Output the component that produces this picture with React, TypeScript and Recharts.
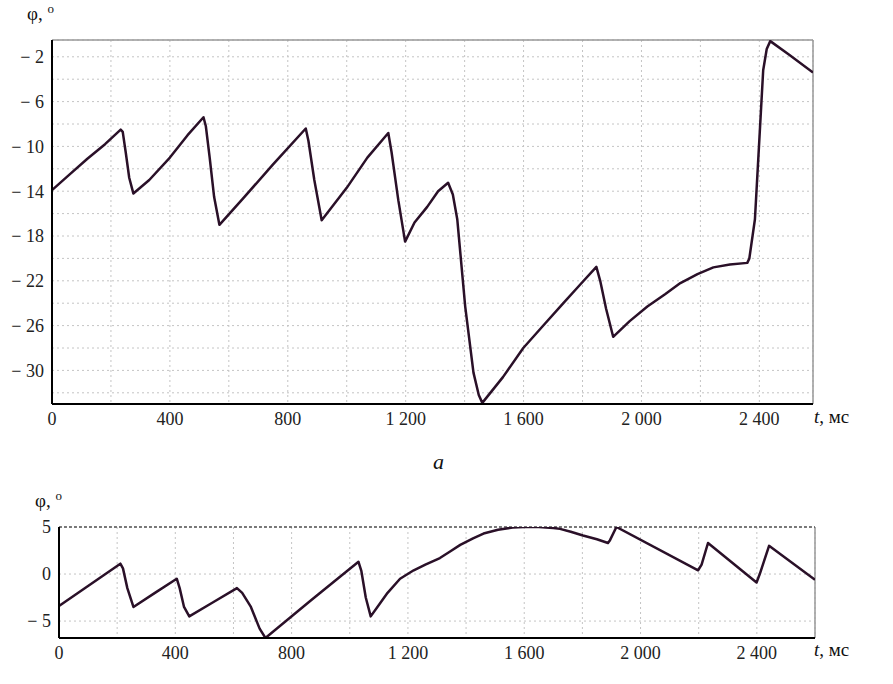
import { LineChart, Line, XAxis, YAxis, CartesianGrid, ReferenceLine } from "recharts";

// chart a: time (ms) and angle (deg)
const T_A = [
  0, 60, 120, 180, 233, 240, 250, 262, 276, 330, 400, 460, 514, 522, 535, 550, 568, 650, 750, 861,
  870, 890, 915, 1000, 1070, 1141, 1152, 1175, 1198, 1230, 1273, 1310, 1344, 1360, 1375, 1402, 1430,
  1448, 1460, 1530, 1599, 1670, 1735, 1790, 1847, 1860, 1880, 1904, 1960, 2020, 2080, 2132, 2190,
  2244, 2300, 2359, 2366, 2385, 2413, 2425, 2437, 2500, 2582,
];
const PHI_A = [
  -13.9, -12.5, -11.1, -9.8, -8.5, -8.7, -10.5, -12.8, -14.2, -13.0, -11.0, -9.0, -7.4, -8.2, -11.0,
  -14.5, -17.0, -14.6, -11.6, -8.4, -9.5, -13.0, -16.6, -13.7, -11.0, -8.8, -10.5, -14.8, -18.5,
  -16.8, -15.4, -14.0, -13.25, -14.3, -16.5, -24.3, -30.2, -32.2, -32.9, -30.6, -28.0, -25.9, -24.0,
  -22.4, -20.75, -22.0, -24.5, -27.0, -25.6, -24.3, -23.2, -22.2, -21.4, -20.8, -20.55, -20.4, -20.0,
  -16.5, -3.2, -1.3, -0.6, -1.8, -3.4,
];

// chart b
const T_B = [
  0, 211, 220, 235, 256, 330, 405, 415, 430, 448, 530, 612, 630, 660, 690, 710, 870, 1030, 1040, 1055,
  1072, 1100, 1130, 1173, 1220, 1260, 1310, 1345, 1380, 1424, 1460, 1510, 1560, 1600, 1650, 1700,
  1723, 1760, 1802, 1850, 1888, 1895, 1917, 2198, 2210, 2232, 2399, 2410, 2442, 2600,
];
const PHI_B = [
  -3.4, 1.1, 0.6, -1.5, -3.5, -2.0, -0.5, -1.5, -3.5, -4.5, -3.0, -1.5, -2.0, -3.5, -5.8, -6.8, -2.7,
  1.3, 0.3, -2.5, -4.5, -3.3, -2.0, -0.5, 0.4, 1.0, 1.7, 2.4, 3.1, 3.8, 4.3, 4.7, 4.95, 5.0, 5.0, 4.9,
  4.8, 4.5, 4.1, 3.7, 3.3, 3.6, 5.0, 0.4, 1.0, 3.3, -0.9, 0.0, 3.0, -0.6,
];

const X_TICKS = [0, 200, 400, 600, 800, 1000, 1200, 1400, 1600, 1800, 2000, 2200, 2400];
const Y_TICKS_A = [-32, -30, -28, -26, -24, -22, -20, -18, -16, -14, -12, -10, -8, -6, -4, -2];
const Y_TICKS_B = [-5, 0, 5];

const dataA = T_A.map((t, i) => ({ t, phi: PHI_A[i] }));
const dataB = T_B.map((t, i) => ({ t, phi: PHI_B[i] }));

const LINE = "#2a1028";
const FONT = "Times New Roman, Liberation Serif, serif";
const tickStyle = { fill: "#222", fontSize: 18, fontFamily: FONT };

const fmtX = (v: number) => {
  if (v % 400 !== 0) return "";
  if (v < 1000) return String(v);
  return `${Math.floor(v / 1000)} ${String(v % 1000).padStart(3, "0")}`;
};
const fmtY = (v: number) => (v < 0 ? `\u2212 ${Math.abs(v)}` : String(v));

const Label = ({ x, y, children, italic }: { x: number; y: number; children: any; italic?: boolean }) => (
  <div
    style={{
      position: "absolute",
      left: x,
      top: y,
      fontFamily: FONT,
      fontSize: 19,
      color: "#111",
      fontStyle: italic ? "italic" : "normal",
      whiteSpace: "nowrap",
    }}
  >
    {children}
  </div>
);

const Phi = ({ x, y }: { x: number; y: number }) => (
  <Label x={x} y={y}>
    φ, <sup style={{ fontSize: 13 }}>o</sup>
  </Label>
);
const TUnit = ({ x, y }: { x: number; y: number }) => (
  <Label x={x} y={y}>
    <i>t</i>, мс
  </Label>
);

export default function App() {
  return (
    <div style={{ position: "absolute", left: 0, top: 0, width: 893, height: 684, background: "#fff" }}>
      <div style={{ position: "absolute", left: 0, top: 0 }}>
        <LineChart width={893} height={440} data={dataA} margin={{ top: 40, right: 80, bottom: 6, left: 8 }}>
          <CartesianGrid stroke="#c4c4c4" strokeDasharray="2 3" />
          <XAxis
            dataKey="t"
            type="number"
            domain={[0, 2582]}
            ticks={X_TICKS}
            interval={0}
            tickFormatter={fmtX}
            tickLine={false}
            axisLine={{ stroke: "#000", strokeWidth: 2 }}
            tick={tickStyle}
            height={30}
            allowDataOverflow
          />
          <YAxis
            type="number"
            domain={[-33, -0.5]}
            ticks={Y_TICKS_A}
            interval={0}
            tickFormatter={(v: number) => (Math.abs(v) % 4 === 2 ? fmtY(v) : "")}
            tickLine={false}
            axisLine={{ stroke: "#000", strokeWidth: 2 }}
            tick={tickStyle}
            width={44}
            allowDataOverflow
          />
          <ReferenceLine x={2582} stroke="#999" strokeWidth={1.5} />
          <ReferenceLine y={-0.5} stroke="#999" strokeWidth={1.5} />
          <Line
            dataKey="phi"
            type="linear"
            stroke={LINE}
            strokeWidth={2.5}
            strokeLinejoin="round"
            dot={false}
            isAnimationActive={false}
          />
        </LineChart>
      </div>
      <Phi x={27} y={1} />
      <TUnit x={814} y={406} />
      <Label x={433} y={449} italic>
        <span style={{ fontSize: 22 }}>a</span>
      </Label>

      <div style={{ position: "absolute", left: 0, top: 480 }}>
        <LineChart width={893} height={190} data={dataB} margin={{ top: 47, right: 78, bottom: 2, left: 8 }}>
          <CartesianGrid stroke="#c4c4c4" strokeDasharray="2 3" />
          <XAxis
            dataKey="t"
            type="number"
            domain={[0, 2600]}
            ticks={X_TICKS}
            interval={0}
            tickFormatter={fmtX}
            tickLine={false}
            axisLine={{ stroke: "#000", strokeWidth: 2 }}
            tick={tickStyle}
            height={30}
            allowDataOverflow
          />
          <YAxis
            type="number"
            domain={[-6.8, 5]}
            ticks={Y_TICKS_B}
            interval={0}
            tickFormatter={fmtY}
            tickLine={false}
            axisLine={{ stroke: "#000", strokeWidth: 2 }}
            tick={tickStyle}
            width={51}
            allowDataOverflow
          />
          <ReferenceLine x={2600} stroke="#999" strokeWidth={1.5} />
          <ReferenceLine y={5} stroke="#555" strokeWidth={1.5} strokeDasharray="3 2" />
          <Line
            dataKey="phi"
            type="linear"
            stroke={LINE}
            strokeWidth={2.5}
            strokeLinejoin="round"
            dot={false}
            isAnimationActive={false}
          />
        </LineChart>
      </div>
      <Phi x={35} y={488} />
      <TUnit x={814} y={639} />
    </div>
  );
}
